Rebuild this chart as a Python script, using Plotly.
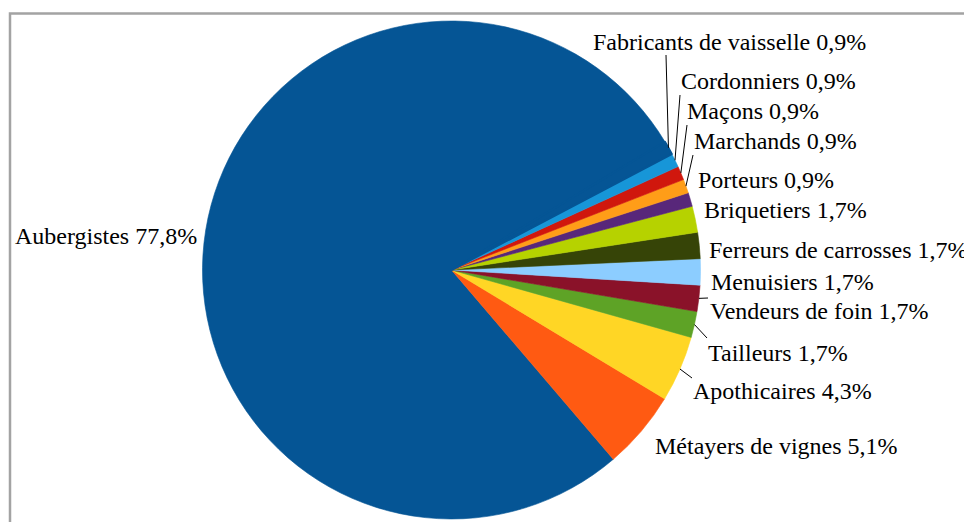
import math
import plotly.graph_objects as go

# Trades and their share (%)
trades = [
    "Aubergistes", "Métayers de vignes", "Apothicaires", "Tailleurs",
    "Vendeurs de foin", "Menuisiers", "Ferreurs de carrosses", "Briquetiers",
    "Porteurs", "Marchands", "Maçons", "Cordonniers", "Fabricants de vaisselle",
]
shares = [77.8, 5.1, 4.3, 1.7, 1.7, 1.7, 1.7, 1.7, 0.9, 0.9, 0.9, 0.9, 0.9]
colors = [
    "#055595", "#ff5a12", "#ffd625", "#5ea326", "#8a1229", "#8ccdff",
    "#364407", "#b6d200", "#58277a", "#ff9d18", "#d0170d", "#1796d8", "#055595",
]

W, H = 964, 522
CX, CY, R = 451.5, 270, 249        # pie centre and radius (px)
START = 31.0                        # first slice starts here (deg, ccw from 3 o'clock)

# label placement: left edge x, middle y (px), and optional leader end point
label_pos = {
    "Aubergistes": (13, 236, None),
    "Métayers de vignes": (653, 446, None),
    "Apothicaires": (691, 391, (692, 378)),
    "Tailleurs": (706, 353, (707, 338)),
    "Vendeurs de foin": (708, 311, (708, 298)),
    "Menuisiers": (709, 282, None),
    "Ferreurs de carrosses": (707, 250, None),
    "Briquetiers": (702, 210, None),
    "Porteurs": (696, 180, None),
    "Marchands": (692, 141, (693, 155)),
    "Maçons": (685, 111, (687, 125)),
    "Cordonniers": (679, 81, (680, 95)),
    "Fabricants de vaisselle": (591, 42, (666, 55)),
}


def px(x):
    return x / W


def py(y):
    return 1 - y / H


total = sum(shares)
# plotly ends the first counter-clockwise slice at `rotation` (deg clockwise from 12 o'clock)
rotation = (90 - START - 360.0 * shares[0] / total) % 360

# same-colour outlines hide anti-aliasing seams; the last slice shares the first one's colour
line_widths = [0.6] * (len(trades) - 1) + [2.0]

fig = go.Figure(go.Pie(
    labels=trades,
    values=shares,
    sort=False,
    direction="counterclockwise",
    rotation=rotation,
    marker=dict(colors=colors, line=dict(color=colors, width=line_widths)),
    textinfo="none",
    hoverinfo="label+percent",
    showlegend=False,
    domain=dict(x=[px(CX - R), px(CX + R)], y=[py(CY + R), py(CY - R)]),
))

annotations = []
shapes = []
cum = 0.0
for name, v in zip(trades, shares):
    mid = START + 360.0 * (cum + v / 2) / total
    cum += v
    lx, ly, lead = label_pos[name]
    annotations.append(dict(
        x=px(lx), y=py(ly), xref="paper", yref="paper",
        xanchor="left", yanchor="middle", showarrow=False,
        text=f"{name} {str(v).replace('.', ',')}%",
        font=dict(family="Liberation Serif", size=24, color="#000000"),
    ))
    if lead is not None:
        a = math.radians(mid)
        sx = CX + R * math.cos(a)
        sy = CY - R * math.sin(a)
        shapes.append(dict(
            type="line", xref="paper", yref="paper",
            x0=px(sx), y0=py(sy), x1=px(lead[0]), y1=py(lead[1]),
            line=dict(color="#000000", width=1),
        ))

# outer frame (top and left edges visible)
shapes.append(dict(
    type="rect", xref="paper", yref="paper",
    x0=px(10), y0=py(H + 20), x1=px(W + 20), y1=py(13.5),
    line=dict(color="#a3a3a3", width=2.5), fillcolor="rgba(0,0,0,0)",
    layer="below",
))

fig.update_layout(
    width=W, height=H,
    margin=dict(l=0, r=0, t=0, b=0),
    paper_bgcolor="#ffffff",
    plot_bgcolor="#ffffff",
    annotations=annotations,
    shapes=shapes,
)

fig.write_html("out.html")
